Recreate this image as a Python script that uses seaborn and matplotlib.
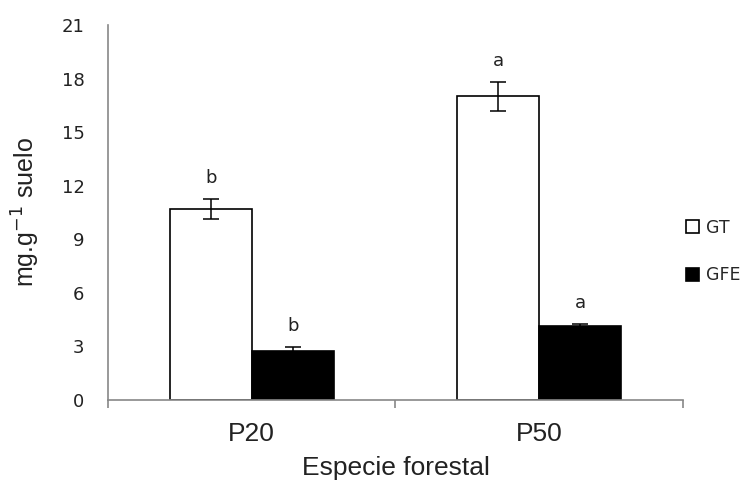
import numpy as np
import pandas as pd
import matplotlib
matplotlib.use('Agg')
import matplotlib.pyplot as plt
import seaborn as sns

# data
especies = ['P20', 'P50']
grupos = ['GT', 'GFE']
gt = [10.7, 17.0]
gt_err = [0.55, 0.8]
gfe = [2.75, 4.12]
gfe_err = [0.2, 0.16]
letras_gt = ['b', 'a']
letras_gfe = ['b', 'a']

df = pd.DataFrame({
    'especie': especies * 2,
    'grupo': ['GT'] * 2 + ['GFE'] * 2,
    'valor': gt + gfe,
})

sns.set_style('white')
plt.rcParams['font.family'] = ['Liberation Sans', 'DejaVu Sans']

gris = '#878787'
fig, ax = plt.subplots(figsize=(7.47, 4.87), dpi=100)
fig.subplots_adjust(left=0.1446, right=0.9143, bottom=0.1786, top=0.9487)

sns.barplot(data=df, x='especie', y='valor', hue='grupo', order=especies,
            hue_order=grupos, palette=['white', 'black'], edgecolor='black',
            linewidth=1.2, width=0.57, errorbar=None, ax=ax)

# error bars and significance letters
errs = [gt_err, gfe_err]
letras = [letras_gt, letras_gfe]
vals = [gt, gfe]
for cont, e, l, v in zip(ax.containers, errs, letras, vals):
    xs = [p.get_x() + p.get_width() / 2 for p in cont.patches]
    ax.errorbar(xs, v, yerr=e, fmt='none', ecolor='black', elinewidth=1.1,
                capsize=5.5, capthick=1.1, zorder=5)
    for x, y, err, t in zip(xs, v, e, l):
        ax.annotate(t, (x, y + err), xytext=(0, 11.5), textcoords='offset points',
                    ha='center', va='baseline', fontsize=13, color='#222222',
                    family='DejaVu Sans')

ax.set_ylim(0, 21)
ax.set_yticks(np.arange(0, 22, 3))
ax.set_xlim(-0.5, 1.5)
ax.set_xticks([-0.5, 0.5, 1.5], minor=True)

for s in ['top', 'right']:
    ax.spines[s].set_visible(False)
for s in ['left', 'bottom']:
    ax.spines[s].set_color(gris)
    ax.spines[s].set_linewidth(1.2)

ax.tick_params(axis='y', length=5, color=gris, width=1.2, pad=12, labelsize=13,
               labelcolor='#222222')
ax.tick_params(axis='x', which='major', length=0, pad=16, labelsize=19,
               labelcolor='#222222')
ax.tick_params(axis='x', which='minor', length=6, color=gris, width=1.2, bottom=True)
for t in ax.get_yticklabels():
    t.set_family('DejaVu Sans')

ax.set_xlabel('Especie forestal', fontsize=19, color='#222222', labelpad=7)
ax.set_ylabel('mg.g$^{-1}$ suelo', fontsize=18, color='#222222', labelpad=14)

ax.get_legend().remove()
fig.legend(ax.containers, grupos, loc='upper left', bbox_to_anchor=(0.897, 0.583),
           frameon=False, handlelength=0.75, handleheight=0.75,
           handletextpad=0.4, labelspacing=1.7, prop={'family': 'DejaVu Sans', 'size': 12.5})

fig.savefig('out.png', dpi=100)
